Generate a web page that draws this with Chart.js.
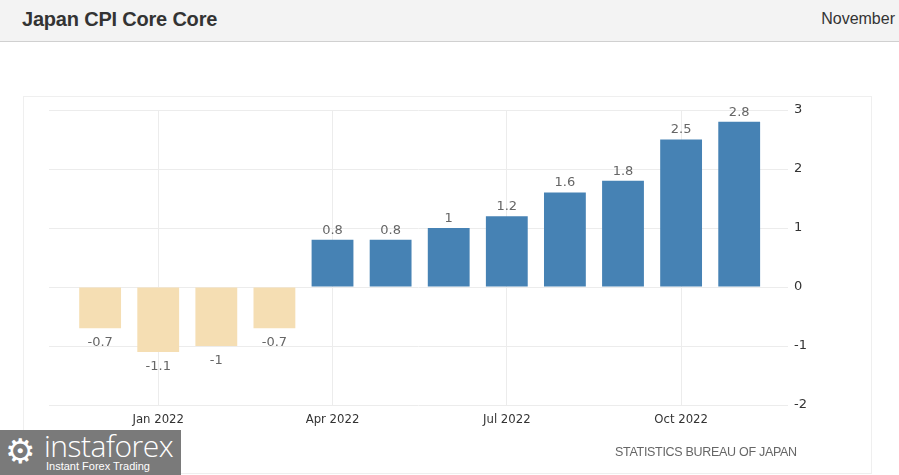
<!DOCTYPE html>
<html>
<head>
<meta charset="utf-8">
<script src="https://cdn.jsdelivr.net/npm/chart.js@4"></script>
<style>
  body { margin: 0; width: 899px; height: 475px; background: #fff; font-family: "Liberation Sans", Arial, sans-serif; overflow: hidden; position: relative; }
  #header { position: absolute; left: 0; top: 0; width: 899px; height: 41px; background: #f3f3f3; border-bottom: 1px solid #d0d0d0; }
  #title { position: absolute; left: 22px; top: 8px; font-size: 20px; font-weight: bold; color: #333; letter-spacing: -0.2px; }
  #period { position: absolute; right: 4px; top: 10px; font-size: 16px; color: #333; }
  #panel { position: absolute; left: 23px; top: 96px; width: 847px; height: 376px; border: 1px solid #efefef; }
  #wrap { position: absolute; left: 0; top: 0; width: 899px; height: 475px; }
  #source { position: absolute; left: 615px; top: 445px; font-size: 12.5px; color: #666; letter-spacing: -0.3px; }
  #logo { position: absolute; left: 0; top: 430px; width: 181px; height: 45px; background: #7a7a7a; color: #fff; overflow: hidden; }
  #logo .gear { position: absolute; left: 5px; top: 1px; font-size: 34px; line-height: 40px; font-family: "DejaVu Sans"; }
  #logo .name { position: absolute; left: 44px; top: 0px; font-size: 30px; line-height: 32px; font-weight: 300; font-family: "Open Sans", sans-serif; letter-spacing: -0.5px; }
  #logo .tag { position: absolute; left: 46px; top: 30px; font-size: 11px; }
</style>
</head>
<body>
<div id="header"><div id="title">Japan CPI Core Core</div><div id="period">November</div></div>
<div id="panel"></div>
<div id="wrap"><canvas id="chart" width="899" height="475"></canvas></div>
<div id="source">STATISTICS BUREAU OF JAPAN</div>
<div id="logo"><span class="gear">⚙</span><span class="name">instaforex</span><span class="tag">Instant Forex Trading</span></div>
<script>
// Dec 2021 .. Nov 2022
const months = ['Dec 2021', 'Jan 2022', 'Feb 2022', 'Mar 2022', 'Apr 2022', 'May 2022', 'Jun 2022', 'Jul 2022', 'Aug 2022', 'Sep 2022', 'Oct 2022', 'Nov 2022']
const values = [-0.7, -1.1, -1, -0.7, 0.8, 0.8, 1, 1.2, 1.6, 1.8, 2.5, 2.8]
const tickIndex = [1, 4, 7, 10]
const yTicks = [-2, -1, 0, 1, 2, 3]

const points = values.map((v, i) => ({ x: i, y: v }))
const colors = values.map((v) => (v < 0 ? '#f5deb3' : '#4682b4'))

// value labels over / under bars
const valueLabels = {
  id: 'valueLabels',
  afterDatasetsDraw(chart) {
    const ctx = chart.ctx
    const meta = chart.getDatasetMeta(0)
    ctx.save()
    ctx.font = '13px "DejaVu Sans", sans-serif'
    ctx.fillStyle = '#666'
    ctx.textAlign = 'center'
    meta.data.forEach((bar, i) => {
      const v = values[i]
      if (v >= 0) {
        ctx.textBaseline = 'bottom'
        ctx.fillText(String(v), bar.x, bar.y - 3)
      } else {
        ctx.textBaseline = 'top'
        ctx.fillText(String(v), bar.x, bar.y + 8)
      }
    })
    ctx.restore()
  },
}

const chart = new Chart(document.getElementById('chart'), {
  type: 'bar',
  data: {
    datasets: [
      {
        data: points,
        backgroundColor: colors,
        borderWidth: 0,
        barPercentage: 0.9,
        categoryPercentage: 0.8,
      },
    ],
  },
  options: {
    responsive: false,
    animation: false,
    layout: { padding: { left: 49, top: 110, right: 0, bottom: 0 } },
    plugins: { legend: { display: false }, tooltip: { enabled: false } },
    scales: {
      x: {
        type: 'linear',
        offset: false,
        min: -0.88,
        max: 11.84,
        afterBuildTicks: (scale) => {
          scale.ticks = tickIndex.map((v) => ({ value: v }))
        },
        afterFit: (scale) => {
          scale.height = 70
        },
        ticks: {
          callback: (v) => months[v],
          color: '#333',
          font: { size: 13, family: '"DejaVu Sans Condensed", "DejaVu Sans", sans-serif' },
          padding: 7,
          maxRotation: 0,
          autoSkip: false,
        },
        grid: { color: '#ececec', drawTicks: false, offset: false },
        border: { display: false },
      },
      y: {
        position: 'right',
        min: -2,
        max: 3,
        afterBuildTicks: (scale) => {
          scale.ticks = yTicks.map((v) => ({ value: v }))
        },
        afterFit: (scale) => {
          scale.width = 111
        },
        ticks: {
          color: '#333',
          font: { size: 13, family: '"DejaVu Sans", sans-serif' },
          padding: 6,
        },
        grid: { color: '#ececec', drawTicks: false },
        border: { display: false },
      },
    },
  },
  plugins: [valueLabels],
})
</script>
</body>
</html>
